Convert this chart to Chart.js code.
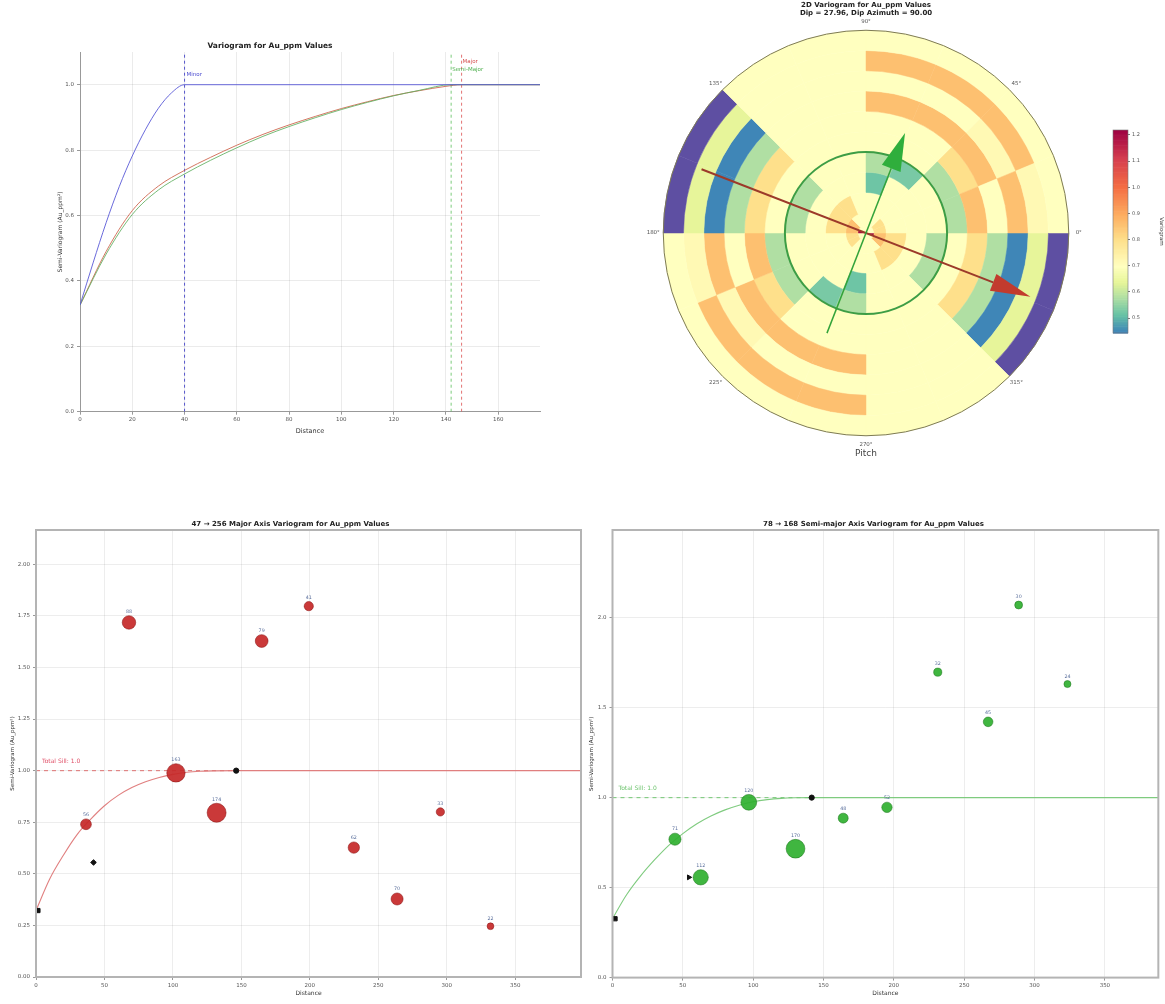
<!DOCTYPE html>
<html>
<head>
<meta charset="utf-8">
<title>Variogram analysis – Au_ppm</title>
<script src="https://cdn.jsdelivr.net/npm/chart.js@4.4.0/dist/chart.umd.min.js"></script>
<style>
  html, body { margin: 0; padding: 0; background: #ffffff; }
  body { width: 1165px; height: 1004px; position: relative; overflow: hidden; }
  canvas { position: absolute; }
</style>
</head>
<body>
<canvas id="omni"  width="580" height="420" style="left:0;top:30px"></canvas>
<canvas id="map2d" width="470" height="460" style="left:640px;top:0"></canvas>
<canvas id="cbar"  width="75"  height="225" style="left:1090px;top:120px"></canvas>
<canvas id="major" width="590" height="494" style="left:0;top:510px"></canvas>
<canvas id="semi"  width="580" height="494" style="left:585px;top:510px"></canvas>
<script>
// ---------------- model variograms (top left) ----------------
const omniTicksX = [0, 20, 40, 60, 80, 100, 120, 140, 160];
const omniTicksY = [0, 0.2, 0.4, 0.6, 0.8, 1.0];
const minorRange = 40;
const semiRange = 142;
const majorRange = 146;
const totalSill = 1.0;

const minorFitLag   = [0, 5, 10, 15, 20, 25, 30, 35, 40, 176];
const minorFitGamma = [0.326, 0.455, 0.578, 0.688, 0.782, 0.862, 0.928, 0.975, 1.0, 1.0];
const majorFitLag   = [0, 10, 20, 30, 40, 50, 60, 70, 80, 90, 100, 110, 120, 130, 140, 146, 176];
const majorFitGamma = [0.326, 0.49, 0.615, 0.69, 0.738, 0.778, 0.815, 0.848, 0.877, 0.903, 0.927, 0.948, 0.967, 0.982, 0.995, 1.0, 1.0];
const semiFitLag    = [0, 10, 20, 30, 40, 50, 60, 70, 80, 90, 100, 110, 120, 130, 142, 176];
const semiFitGamma  = [0.326, 0.482, 0.603, 0.678, 0.727, 0.769, 0.807, 0.842, 0.872, 0.899, 0.924, 0.946, 0.966, 0.983, 1.0, 1.0];

// ---------------- directional experimental variograms ----------------
const dirTicksX = [0, 50, 100, 150, 200, 250, 300, 350];
const majorTicksY = [0, 0.25, 0.5, 0.75, 1.0, 1.25, 1.5, 1.75, 2.0];
const semiTicksY  = [0, 0.5, 1.0, 1.5, 2.0];

const majorLag   = [36.5, 67.9, 102.2, 131.9, 164.8, 199.2, 232.1, 263.7, 295.3, 331.9];
const majorGamma = [0.740, 1.718, 0.989, 0.796, 1.628, 1.797, 0.627, 0.378, 0.800, 0.246];
const majorPairs = [56, 88, 163, 174, 79, 41, 62, 70, 33, 22];
const majorCurveLag   = [0, 10, 20, 30, 40, 50, 60, 70, 80, 90, 100, 110, 120, 130, 146, 398];
const majorCurveGamma = [0.322, 0.475, 0.59, 0.69, 0.765, 0.83, 0.88, 0.918, 0.946, 0.967, 0.982, 0.992, 0.997, 0.999, 1.0, 1.0];
const majorMarkLag   = [1.4, 42, 146.2];
const majorMarkGamma = [0.322, 0.555, 1.0];

const semiLag   = [44.4, 62.7, 96.9, 130.1, 164.0, 195.1, 231.2, 267.0, 288.7, 323.4];
const semiGamma = [0.769, 0.557, 0.974, 0.716, 0.886, 0.946, 1.697, 1.421, 2.070, 1.631];
const semiPairs = [71, 112, 120, 170, 48, 52, 32, 45, 30, 24];
const semiCurveLag   = [0, 10, 20, 30, 40, 50, 60, 70, 80, 90, 100, 110, 120, 130, 142, 388];
const semiCurveGamma = [0.327, 0.46, 0.565, 0.655, 0.735, 0.80, 0.855, 0.898, 0.932, 0.958, 0.977, 0.989, 0.996, 0.999, 1.0, 1.0];
const semiMarkLag   = [1.8, 54.3, 141.6];
const semiMarkGamma = [0.327, 0.557, 1.0];

// ---------------- 2D variogram map (rings outer -> inner, 22.5° sectors clockwise from 0°) ----------------
const mapMaxLag = 100;
const ringWeights = [1, 1, 1, 1, 1, 1, 1, 1, 1, 0.6, 0.4];
const ringCells = [
  [0.38, 0.38, 0.70, 0.70, 0.70, 0.70, 0.70, 0.70, 0.38, 0.38, 0.70, 0.70, 0.70, 0.70, 0.70, 0.70],
  [0.64, 0.64, 0.70, 0.70, 0.86, 0.86, 0.86, 0.72, 0.64, 0.64, 0.70, 0.70, 0.86, 0.86, 0.86, 0.72],
  [0.45, 0.45, 0.70, 0.70, 0.70, 0.70, 0.72, 0.86, 0.45, 0.45, 0.70, 0.70, 0.70, 0.70, 0.72, 0.86],
  [0.58, 0.58, 0.70, 0.70, 0.86, 0.86, 0.86, 0.70, 0.58, 0.58, 0.70, 0.70, 0.86, 0.86, 0.86, 0.70],
  [0.80, 0.80, 0.70, 0.70, 0.70, 0.70, 0.80, 0.86, 0.80, 0.80, 0.70, 0.70, 0.70, 0.70, 0.80, 0.86],
  [0.70, 0.70, 0.70, 0.70, 0.70, 0.70, 0.58, 0.58, 0.70, 0.70, 0.70, 0.70, 0.70, 0.70, 0.58, 0.58],
  [0.58, 0.58, 0.70, 0.70, 0.58, 0.53, 0.70, 0.70, 0.58, 0.58, 0.70, 0.70, 0.58, 0.53, 0.70, 0.70],
  [0.70, 0.70, 0.70, 0.70, 0.52, 0.70, 0.70, 0.70, 0.70, 0.70, 0.70, 0.70, 0.52, 0.70, 0.70, 0.70],
  [0.80, 0.80, 0.80, 0.70, 0.70, 0.70, 0.70, 0.70, 0.80, 0.80, 0.80, 0.70, 0.70, 0.70, 0.70, 0.70],
  [0.86, 0.86, 0.70, 0.70, 0.70, 0.70, 0.80, 0.80, 0.86, 0.86, 0.70, 0.70, 0.70, 0.70, 0.80, 0.80],
  [1.20, 0.70, 0.70, 0.70, 0.70, 0.70, 0.70, 0.70, 1.20, 0.70, 0.70, 0.70, 0.70, 0.70, 0.70, 0.70]
];
const angleLabels = ['0°', '45°', '90°', '135°', '180°', '225°', '270°', '315°'];
const majorAxisAngle = -21.2;   // degrees, counter-clockwise from 0°
const semiAxisAngle = 68.7;
const majorArrowLag = 87;
const semiArrowLag = 53;
const cbarTicks = [0.5, 0.6, 0.7, 0.8, 0.9, 1.0, 1.1, 1.2];
const cbarMin = 0.443, cbarMax = 1.219;

// ---------------- colour map ----------------
const cmapStops = [[0, '#3b7fb9'], [0.09, '#66c2a5'], [0.17, '#abdda4'], [0.25, '#e6f598'], [0.33, '#ffffbf'],
                   [0.46, '#fee08b'], [0.58, '#fdae61'], [0.72, '#f46d43'], [0.86, '#d53e4f'], [1, '#9e0142']];
const underColor = '#5e4fa2';
function hexRgb(h) { return [parseInt(h.slice(1, 3), 16), parseInt(h.slice(3, 5), 16), parseInt(h.slice(5, 7), 16)]; }
function cmap(v) {
  const t = (v - cbarMin) / (cbarMax - cbarMin);
  if (t < 0) return underColor;
  const tt = Math.min(1, t);
  for (let i = 1; i < cmapStops.length; i++) {
    if (tt <= cmapStops[i][0]) {
      const [t0, c0] = cmapStops[i - 1], [t1, c1] = cmapStops[i];
      const f = (tt - t0) / (t1 - t0), a = hexRgb(c0), b = hexRgb(c1);
      return `rgb(${a.map((x, k) => Math.round(x + (b[k] - x) * f)).join(',')})`;
    }
  }
  return cmapStops[cmapStops.length - 1][1];
}

// ---------------- shared settings ----------------
Chart.defaults.font.family = "'DejaVu Sans', 'Liberation Sans', sans-serif";
Chart.defaults.animation = false;
Chart.defaults.events = [];
Chart.defaults.plugins.legend.display = false;
Chart.defaults.plugins.tooltip.enabled = false;

const fixTicks = vals => scale => { scale.ticks = vals.map(v => ({ value: v })); };
const pts = (xs, ys) => xs.map((x, i) => ({ x, y: ys[i] }));
const tickFont = { size: 5.5 };

// full frame around the plot area
const framePlugin = {
  id: 'frame',
  afterDraw(chart, args, opts) {
    if (!opts || !opts.color) return;
    const { ctx, chartArea: a } = chart;
    ctx.save();
    ctx.strokeStyle = opts.color;
    ctx.lineWidth = opts.width;
    ctx.strokeRect(a.left, a.top, a.right - a.left, a.bottom - a.top);
    ctx.restore();
  }
};

// text annotations placed in data coordinates
const notePlugin = {
  id: 'notes',
  afterDatasetsDraw(chart, args, opts) {
    if (!opts || !opts.items) return;
    const { ctx, scales: { x, y } } = chart;
    ctx.save();
    opts.items.forEach(n => {
      ctx.font = `${n.size || 5.5}px 'DejaVu Sans', sans-serif`;
      ctx.fillStyle = n.color;
      ctx.textAlign = n.align || 'left';
      ctx.textBaseline = 'middle';
      ctx.fillText(n.text, x.getPixelForValue(n.x) + (n.dx || 0), y.getPixelForValue(n.y) + (n.dy || 0));
    });
    ctx.restore();
  }
};

// pair-count labels above experimental points
const pairLabelPlugin = {
  id: 'pairLabels',
  afterDatasetsDraw(chart) {
    const { ctx } = chart;
    chart.data.datasets.forEach((ds, i) => {
      if (!ds.pairLabels) return;
      const meta = chart.getDatasetMeta(i);
      ctx.save();
      ctx.font = "4.8px 'DejaVu Sans', sans-serif";
      ctx.fillStyle = '#5a6f9c';
      ctx.textAlign = 'center';
      ctx.textBaseline = 'bottom';
      meta.data.forEach((el, j) => {
        const r = ds.pointRadius[j];
        ctx.fillText(String(ds.pairLabels[j]), el.x, el.y - r - 1.5);
      });
      ctx.restore();
    });
  }
};

Chart.register(framePlugin, notePlugin, pairLabelPlugin);

// ---------------- top left: fitted models ----------------
new Chart(document.getElementById('omni'), {
  type: 'line',
  data: {
    datasets: [
      { data: pts(minorFitLag, minorFitGamma), borderColor: 'rgba(90,90,215,0.9)', borderWidth: 1, pointRadius: 0, cubicInterpolationMode: 'monotone', order: 1 },
      { data: pts(majorFitLag, majorFitGamma), borderColor: 'rgba(205,95,70,0.85)', borderWidth: 1, pointRadius: 0, cubicInterpolationMode: 'monotone', order: 3 },
      { data: pts(semiFitLag, semiFitGamma), borderColor: 'rgba(95,175,95,0.85)', borderWidth: 1, pointRadius: 0, cubicInterpolationMode: 'monotone', order: 2 },
      { data: [{ x: minorRange, y: 0 }, { x: minorRange, y: 1.1 }], borderColor: 'rgba(70,70,200,0.9)', borderWidth: 1, borderDash: [3, 3], pointRadius: 0, order: 4 },
      { data: [{ x: semiRange, y: 0 }, { x: semiRange, y: 1.1 }], borderColor: 'rgba(90,190,90,0.8)', borderWidth: 1, borderDash: [3, 3], pointRadius: 0, order: 4 },
      { data: [{ x: majorRange, y: 0 }, { x: majorRange, y: 1.1 }], borderColor: 'rgba(220,80,80,0.8)', borderWidth: 1, borderDash: [3, 3], pointRadius: 0, order: 4 }
    ]
  },
  options: {
    responsive: false,
    layout: { padding: { left: 0, right: 40, top: 0, bottom: 0 } },
    plugins: {
      title: { display: true, text: 'Variogram for Au_ppm Values', color: '#222', font: { size: 7.5, weight: 'bold' }, padding: { top: 11.5, bottom: 1.5 } },
      notes: { items: [
        { text: 'Minor', x: minorRange, y: 1.03, dx: 2, color: '#4a4ad0' },
        { text: 'Major', x: majorRange, y: 1.07, dx: 1, color: '#d65050' },
        { text: 'Semi-Major', x: semiRange, y: 1.045, dx: 1, color: '#4fb04f' }
      ] }
    },
    scales: {
      x: {
        type: 'linear', min: 0, max: 176,
        afterBuildTicks: fixTicks(omniTicksX),
        afterFit: s => { s.height = 38.3; },
        ticks: { font: tickFont, color: '#555', padding: 2, maxRotation: 0 },
        grid: { color: 'rgba(0,0,0,0.08)', tickColor: '#999', tickLength: 3 },
        border: { color: '#999', width: 1 },
        title: { display: true, text: 'Distance', color: '#333', font: { size: 6.5 }, padding: { top: 0, bottom: 15 } }
      },
      y: {
        type: 'linear', min: 0, max: 1.1,
        afterBuildTicks: fixTicks(omniTicksY),
        afterFit: s => { s.width = 80; },
        ticks: { font: tickFont, color: '#555', padding: 3, callback: v => Number(v).toFixed(1) },
        grid: { color: 'rgba(0,0,0,0.08)', tickColor: '#999', tickLength: 3 },
        border: { color: '#999', width: 1 },
        title: { display: true, text: 'Semi-Variogram (Au_ppm²)', color: '#333', font: { size: 6 }, padding: { top: 57, bottom: 0 } }
      }
    }
  }
});

// ---------------- top right: 2D variogram map ----------------
const mapDecor = {
  id: 'mapDecor',
  afterDatasetsDraw(chart) {
    const { ctx } = chart;
    const arc = chart.getDatasetMeta(0).data[0];
    const cx = arc.x, cy = arc.y, R = arc.outerRadius;
    const toPx = lag => lag / mapMaxLag * R;
    ctx.save();
    // outline
    ctx.strokeStyle = '#7d7a55'; ctx.lineWidth = 1;
    ctx.beginPath(); ctx.arc(cx, cy, R, 0, Math.PI * 2); ctx.stroke();
    // minor range circle
    ctx.strokeStyle = '#3d9d45'; ctx.lineWidth = 2;
    ctx.beginPath(); ctx.arc(cx, cy, toPx(minorRange), 0, Math.PI * 2); ctx.stroke();
    // direction arrows
    const arrow = (angDeg, lag, lineCol, headCol, lw, headLen, headHalf) => {
      const a = -angDeg * Math.PI / 180, L = toPx(lag);
      const ux = Math.cos(a), uy = Math.sin(a);
      const tx = cx + ux * L, ty = cy + uy * L;
      const bx = tx - ux * headLen, by = ty - uy * headLen;
      ctx.strokeStyle = lineCol; ctx.lineWidth = lw;
      ctx.beginPath(); ctx.moveTo(cx - ux * L, cy - uy * L); ctx.lineTo(bx, by); ctx.stroke();
      ctx.fillStyle = headCol;
      ctx.beginPath();
      ctx.moveTo(tx, ty);
      ctx.lineTo(bx - uy * headHalf, by + ux * headHalf);
      ctx.lineTo(bx + uy * headHalf, by - ux * headHalf);
      ctx.closePath(); ctx.fill();
    };
    arrow(majorAxisAngle, majorArrowLag, '#9c3a2a', '#c23b2e', 2, 40, 9);
    arrow(semiAxisAngle, semiArrowLag, '#33a33a', '#2fae3c', 1.5, 38, 10);
    // angle labels
    ctx.fillStyle = '#555';
    ctx.font = "5.5px 'DejaVu Sans', sans-serif";
    ctx.textAlign = 'center'; ctx.textBaseline = 'middle';
    angleLabels.forEach((t, i) => {
      const a = -i * Math.PI / 4;
      ctx.fillText(t, cx + Math.cos(a) * (R + 10), cy + Math.sin(a) * (R + 9));
    });
    ctx.fillStyle = '#444';
    ctx.font = "9px 'DejaVu Sans', sans-serif";
    ctx.fillText('Pitch', cx, cy + R + 18);
    ctx.restore();
  }
};

new Chart(document.getElementById('map2d'), {
  type: 'doughnut',
  data: {
    labels: ringCells[0].map((_, i) => `${i * 22.5}°`),
    datasets: ringCells.map((ring, i) => ({
      data: ring.map(() => 1),
      backgroundColor: ring.map(cmap),
      borderColor: ring.map(cmap),
      borderWidth: 0.5,
      weight: ringWeights[i]
    }))
  },
  options: {
    responsive: false,
    cutout: 0,
    rotation: 90,
    hoverOffset: 0,
    layout: { padding: { left: 23, right: 41, top: 0, bottom: 24 } },
    plugins: {
      title: {
        display: true,
        text: ['2D Variogram for Au_ppm Values', 'Dip = 27.96, Dip Azimuth = 90.00'],
        color: '#222', font: { size: 7, weight: 'bold', lineHeight: 1.1 }, padding: { top: 1.5, bottom: 13.1 }
      }
    }
  },
  plugins: [mapDecor]
});

// ---------------- colour bar ----------------
const cbarFill = {
  id: 'cbarFill',
  beforeDatasetsDraw(chart) {
    const { ctx, chartArea: a, scales: { y } } = chart;
    const steps = 120;
    for (let i = 0; i < steps; i++) {
      const v0 = cbarMin + (cbarMax - cbarMin) * i / steps;
      const v1 = cbarMin + (cbarMax - cbarMin) * (i + 1) / steps;
      const p0 = y.getPixelForValue(v0), p1 = y.getPixelForValue(v1);
      ctx.fillStyle = cmap((v0 + v1) / 2);
      ctx.fillRect(a.left, p1, a.right - a.left, p0 - p1 + 0.6);
    }
    ctx.strokeStyle = '#777'; ctx.lineWidth = 0.6;
    ctx.strokeRect(a.left, a.top, a.right - a.left, a.bottom - a.top);
  }
};
new Chart(document.getElementById('cbar'), {
  type: 'bar',
  data: { labels: ['Variogram'], datasets: [{ data: [null] }] },
  options: {
    responsive: false,
    layout: { padding: { left: 23, right: 0, top: 10, bottom: 12 } },
    scales: {
      x: { display: false },
      y: {
        position: 'right', min: cbarMin, max: cbarMax,
        afterBuildTicks: fixTicks(cbarTicks),
        afterFit: s => { s.width = 37; },
        ticks: { font: { size: 5 }, color: '#555', padding: 2, callback: v => Number(v).toFixed(1) },
        grid: { display: true, drawOnChartArea: false, tickColor: '#777', tickLength: 2 },
        border: { display: false },
        title: { display: true, text: 'Variogram', color: '#444', font: { size: 5.5 }, padding: { top: 0, bottom: 6 } }
      }
    }
  },
  plugins: [cbarFill]
});

// ---------------- bottom: directional experimental variograms ----------------
function directionalChart(id, cfg) {
  return new Chart(document.getElementById(id), {
    type: 'line',
    data: {
      datasets: [
        { data: pts(cfg.curveLag, cfg.curveGamma), borderColor: cfg.lineColor, borderWidth: 1.1, pointRadius: 0, cubicInterpolationMode: 'monotone', order: 5 },
        { data: [{ x: 0, y: totalSill }, { x: cfg.range, y: totalSill }], borderColor: cfg.lineColor, borderWidth: 1.1, borderDash: [4, 4], pointRadius: 0, order: 6 },
        { data: pts(cfg.lag, cfg.gamma), showLine: false, pointRadius: cfg.pairs.map(n => Math.sqrt(n) * 0.72),
          pointBackgroundColor: cfg.pointColor, pointBorderColor: cfg.pointEdge, pointBorderWidth: 0.6, pairLabels: cfg.pairs, order: 2 },
        { data: pts(cfg.markLag, cfg.markGamma), showLine: false, pointStyle: cfg.markStyles, pointRotation: cfg.markRot,
          pointRadius: [3, 2.8, 2.6], pointBackgroundColor: '#111', pointBorderColor: '#111', order: 1 }
      ]
    },
    options: {
      responsive: false,
      layout: { padding: { left: 0, right: cfg.padRight, top: 0, bottom: 0 } },
      plugins: {
        title: { display: true, text: cfg.title, color: '#222', font: { size: 7, weight: 'bold' }, padding: { top: 10, bottom: 1.6 } },
        frame: { color: '#b4b4b4', width: 2 },
        notes: { items: [{ text: `Total Sill: ${totalSill.toFixed(1)}`, x: 0, y: totalSill + cfg.sillNoteDy, dx: cfg.sillNoteDx, color: cfg.noteColor, size: 6 }] }
      },
      scales: {
        x: {
          type: 'linear', min: 0, max: cfg.maxLag,
          afterBuildTicks: fixTicks(dirTicksX),
          afterFit: s => { s.height = cfg.xAxisH; },
          ticks: { font: tickFont, color: '#555', padding: 2, maxRotation: 0 },
          grid: { color: 'rgba(0,0,0,0.07)', tickColor: '#999', tickLength: 3 },
          border: { display: false },
          title: { display: true, text: 'Distance', color: '#333', font: { size: 6 }, padding: { top: 0, bottom: 7 } }
        },
        y: {
          type: 'linear', min: 0, max: cfg.maxGamma,
          afterBuildTicks: fixTicks(cfg.ticksY),
          afterFit: s => { s.width = cfg.yAxisW; },
          ticks: { font: tickFont, color: '#555', padding: 3, callback: v => Number(v).toFixed(cfg.yDigits) },
          grid: { color: 'rgba(0,0,0,0.07)', tickColor: '#999', tickLength: 3 },
          border: { display: false },
          title: { display: true, text: 'Semi-Variogram (Au_ppm²)', color: '#333', font: { size: 5.5 }, padding: { top: cfg.yTitlePad, bottom: 0 } }
        }
      }
    }
  });
}

directionalChart('major', {
  title: '47 → 256 Major Axis Variogram for Au_ppm Values',
  lag: majorLag, gamma: majorGamma, pairs: majorPairs,
  curveLag: majorCurveLag, curveGamma: majorCurveGamma,
  markLag: majorMarkLag, markGamma: majorMarkGamma,
  markStyles: ['rect', 'rectRot', 'circle'], markRot: [0, 0, 0],
  range: majorRange, maxLag: 398, maxGamma: 2.166, ticksY: majorTicksY, yDigits: 2,
  lineColor: 'rgba(222,120,120,0.95)', pointColor: 'rgba(198,40,40,0.92)', pointEdge: 'rgba(140,20,20,0.9)', noteColor: '#e05068',
  sillNoteDy: 0.045, sillNoteDx: 6,
  padRight: 9, xAxisH: 27, yAxisW: 36, yTitlePad: 9
});

directionalChart('semi', {
  title: '78 → 168 Semi-major Axis Variogram for Au_ppm Values',
  lag: semiLag, gamma: semiGamma, pairs: semiPairs,
  curveLag: semiCurveLag, curveGamma: semiCurveGamma,
  markLag: semiMarkLag, markGamma: semiMarkGamma,
  markStyles: ['rect', 'triangle', 'circle'], markRot: [0, 90, 0],
  range: semiRange, maxLag: 388, maxGamma: 2.487, ticksY: semiTicksY, yDigits: 1,
  lineColor: 'rgba(120,200,120,0.95)', pointColor: 'rgba(48,176,48,0.92)', pointEdge: 'rgba(30,120,30,0.9)', noteColor: '#6cc36c',
  sillNoteDy: 0.05, sillNoteDx: 6,
  padRight: 3, xAxisH: 26.4, yAxisW: 27.5, yTitlePad: 3
});
</script>
</body>
</html>
